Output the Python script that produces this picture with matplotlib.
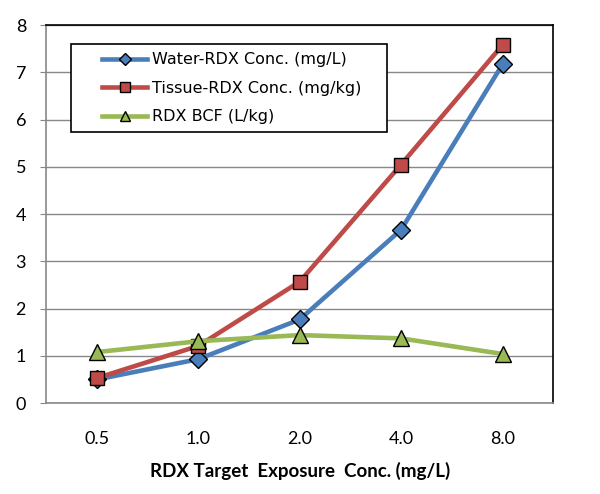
import matplotlib
matplotlib.use("Agg")
import matplotlib.pyplot as plt
from matplotlib.patches import Rectangle

categories = ["0.5", "1.0", "2.0", "4.0", "8.0"]
water = [0.50, 0.93, 1.77, 3.67, 7.17]
tissue = [0.53, 1.21, 2.57, 5.05, 7.58]
bcf = [1.08, 1.31, 1.44, 1.37, 1.04]

plt.rcParams['font.family'] = ['Lato', 'DejaVu Sans']

fig = plt.figure(figsize=(6.0, 4.94), dpi=100)
ax = fig.add_axes([0.077, 0.184, 0.845, 0.765])

x = list(range(len(categories)))
ax.plot(x, water, color='#4A7EBB', lw=3.3, marker='D', ms=9, mfc='#4A7EBB', mec='black', mew=1.0,
        label='Water-RDX Conc. (mg/L)', zorder=3)
ax.plot(x, tissue, color='#BE4B48', lw=3.3, marker='s', ms=10, mfc='#BE4B48', mec='black', mew=1.0,
        label='Tissue-RDX Conc. (mg/kg)', zorder=4)
ax.plot(x, bcf, color='#98B954', lw=3.3, marker='^', ms=12, mfc='#98B954', mec='black', mew=1.0,
        label='RDX BCF (L/kg)', zorder=5)

ax.set_xlim(-0.5, len(categories) - 0.5)
ax.set_ylim(0, 8)
ax.set_yticks(range(0, 9))
ax.set_xticks(x)
ax.set_xticklabels(categories)
ax.tick_params(axis='y', length=4.5, color='#888888', labelsize=13, pad=10)
ax.tick_params(axis='x', length=0, labelsize=13, pad=20)
ax.grid(axis='y', color='#888888', lw=1.0)
ax.set_axisbelow(True)
for s in ['top', 'right']:
    ax.spines[s].set_color('black')
    ax.spines[s].set_linewidth(1.2)
for s in ['left', 'bottom']:
    ax.spines[s].set_color('#888888')
    ax.spines[s].set_linewidth(1.2)

ax.set_xlabel('RDX Target  Exposure  Conc. (mg/L)', fontsize=13.5, fontweight='bold', labelpad=11)

frame = Rectangle((0.049, 0.717), 0.624, 0.233, transform=ax.transAxes, facecolor='white',
                  edgecolor='black', lw=1.2, zorder=6)
ax.add_patch(frame)
leg = ax.legend(loc='upper left', bbox_to_anchor=(0.110, 0.928), frameon=False,
                prop={'family': 'DejaVu Sans', 'size': 11.5}, handlelength=2.85,
                handletextpad=0.3, borderpad=0, labelspacing=0.84, borderaxespad=0)
leg.set_zorder(7)
for h in leg.legend_handles:
    h.set_markersize(6.5)

fig.savefig('out.png', dpi=100)
